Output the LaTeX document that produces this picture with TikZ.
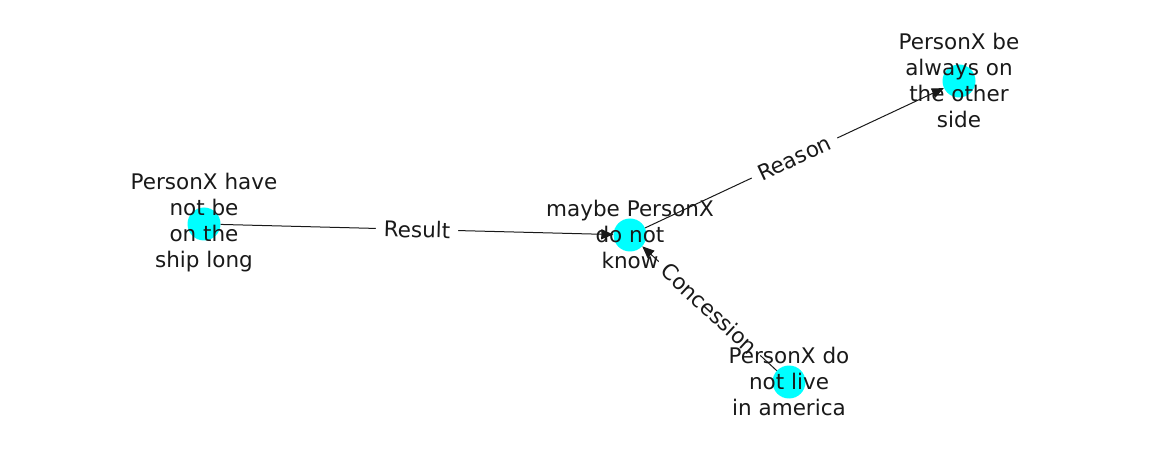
\documentclass[tikz,border=0pt]{standalone}
\usepackage{fontspec}
\setmainfont{DejaVu Sans}
\usetikzlibrary{arrows.meta}
\definecolor{nodecyan}{RGB}{0,255,255}
\begin{document}
\begin{tikzpicture}[x=1pt, y=-1pt,
        dot/.style={circle, fill=nodecyan, minimum size=33pt, inner sep=0pt},
        word/.style={align=center, font=\fontsize{21.5}{26}\selectfont, text=black!90},
        edge/.style={-{Triangle[length=12pt, width=10pt]}, line width=1pt, black!90},
        elabel/.style={midway, sloped, fill=white, inner xsep=8pt, inner ysep=2pt,
            font=\fontsize{21.5}{24}\selectfont, text=black!90}]
    \useasboundingbox (0,0) rectangle (1162,462);

    \node[dot] (ship) at (204,224) {};
    \node[dot] (know) at (630,235) {};
    \node[dot] (side) at (959,81) {};
    \node[dot] (america) at (789,382) {};

    \draw[edge] (ship) -- node[elabel] {Result} (know);
    \draw[edge] (know) -- node[elabel] {Reason} (side);
    \draw[edge] (america) -- node[elabel] {Concession} (know);

    \node[word] (shiplabel) at (204,223) {PersonX have\\not be\\on the\\ship long};
    \node[word] (knowlabel) at (630,234) {maybe PersonX\\do not\\know};
    \node[word] (sidelabel) at (959,80) {PersonX be\\always on\\the other\\side};
    \node[word] (americalabel) at (789,381) {PersonX do\\not live\\in america};
\end{tikzpicture}
\end{document}
